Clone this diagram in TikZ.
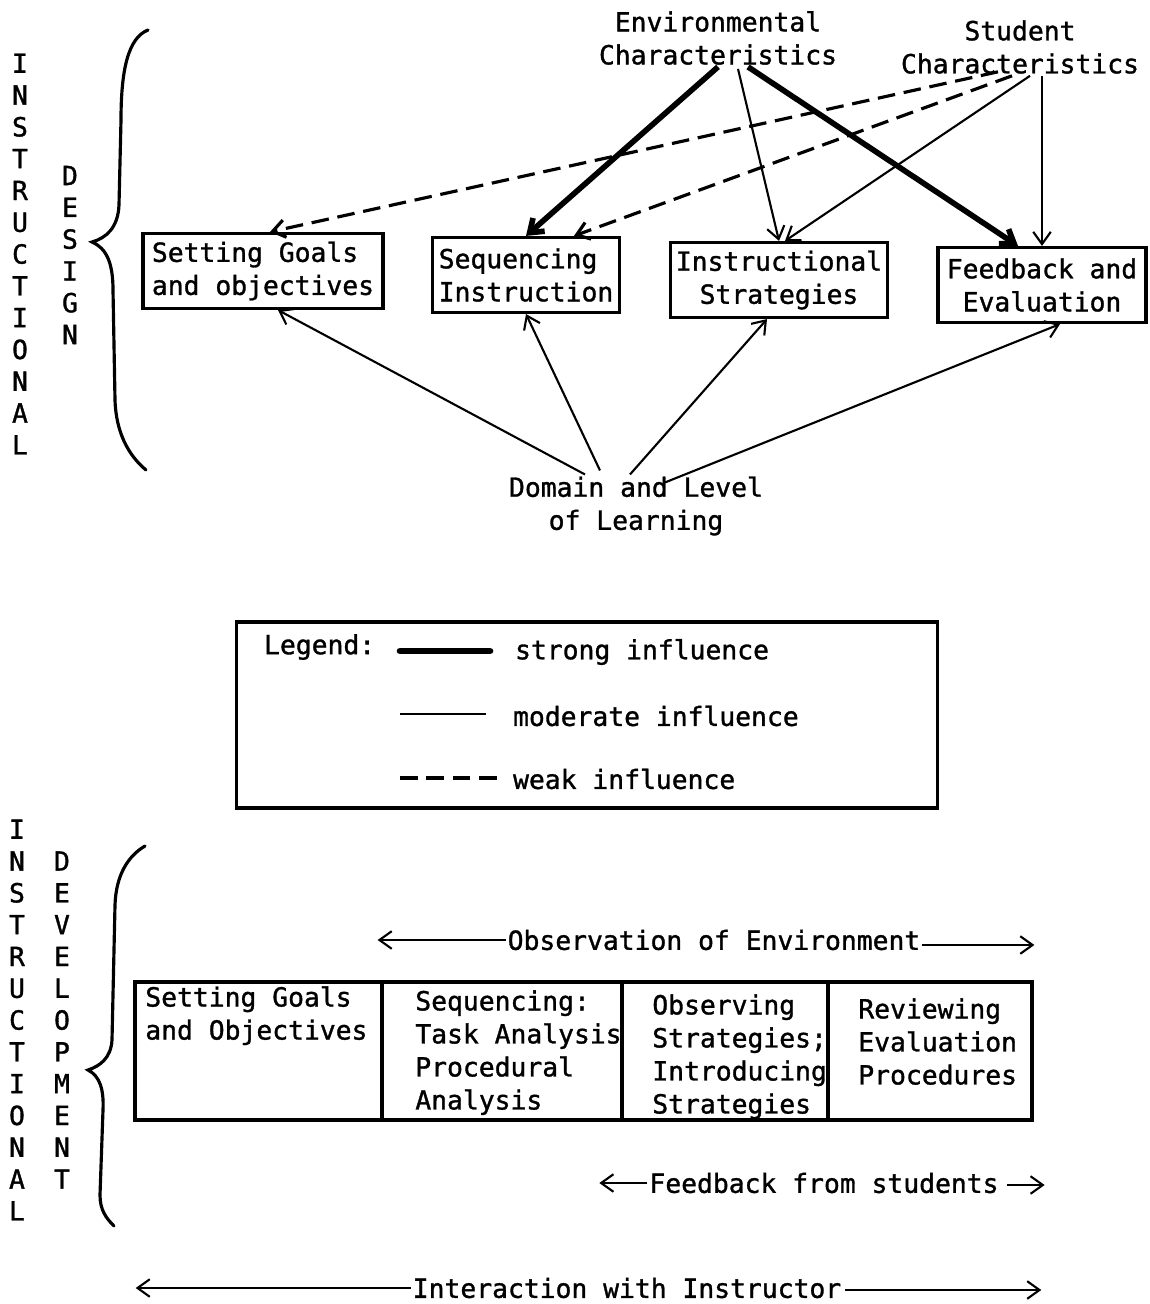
\documentclass[tikz,border=0pt]{standalone}
\usepackage{fontspec}
\newfontfamily\typefont{DejaVu Sans Mono}[FakeBold=1.2]
\usetikzlibrary{positioning,arrows.meta,calc}
\newcommand{\diagfont}{\typefont\fontsize{15}{18.8}\selectfont}
\newcommand{\stackfont}{\typefont\fontsize{15}{18.1}\selectfont}
\tikzset{
    >={Straight Barb[length=7pt,width=10pt]},
    factor/.style = {
        font=\diagfont,
        align=center,
        inner sep=1pt
    },
    stage/.style = {
        draw,
        shape=rectangle,
        minimum height=1.5cm,
        inner sep=3pt,
        line width=1.8pt,
        font=\diagfont
    },
    cell/.style = {
        draw,
        shape=rectangle,
        minimum height=2.76cm,
        line width=1.8pt
    },
    celltext/.style = {
        font=\diagfont,
        align=left,
        anchor=north west,
        inner sep=0pt
    },
    letters/.style = {
        font=\stackfont,
        align=center,
        inner sep=0pt
    },
    strong/.style = {line width=3.2pt},
    moderate/.style = {line width=1.2pt},
    weak/.style = {line width=1.8pt, dash pattern=on 10pt off 5pt},
    brace/.style = {line width=1.8pt, line cap=round},
}

\begin{document}
\begin{tikzpicture}[x=0.02cm, y=-0.02cm]
    \useasboundingbox (0,0) rectangle (1149,1304);

    % instructional design
    \node[letters] (inst1) at (20,254) {I\\N\\S\\T\\R\\U\\C\\T\\I\\O\\N\\A\\L};
    \node[letters] (design) at (70,255) {D\\E\\S\\I\\G\\N};
    \draw[brace] (148,30) .. controls (128,38) and (121,70) .. (121,120) -- (119,205) .. controls (118,228) and (106,238) .. (92,242) .. controls (106,248) and (113,262) .. (113,290) -- (115,400) .. controls (116,432) and (128,455) .. (146,470);

    \node[factor] (env) at (718,38) {Environmental\\Characteristics};
    \node[factor] (stu) at (1020,47) {Student\\Characteristics};

    \node[stage, minimum width=4.8cm, align=left] (goals) at (263,271) {Setting Goals\\and objectives};
    \node[stage, minimum width=3.74cm, align=left] (seq) at (526,275) {Sequencing\\Instruction};
    \node[stage, minimum width=4.3cm, align=center] (strat) at (779,280) {Instructional\\Strategies};
    \node[stage, minimum width=4.16cm, align=center] (feed) at (1042,285) {Feedback and\\Evaluation};

    \node[factor] (dom) at (636,506) {Domain and Level\\of Learning};

    \path[draw, ->, strong] (env.south) -- (seq.north);
    \path[draw, ->, moderate] ($(env.south)+(20,2)$) -- (strat.north);
    \path[draw, ->, strong] ($(env.south)+(30,0)$) -- ($(feed.north)+(-24,0)$);
    \path[draw, ->, weak] ($(stu.south)+(-22,-4)$) -- ($(goals.north)+(7,0)$);
    \path[draw, ->, weak] ($(stu.south)+(-8,0)$) -- ($(seq.north)+(48,0)$);
    \path[draw, ->, moderate] ($(stu.south)+(10,0)$) -- ($(strat.north)+(6,0)$);
    \path[draw, ->, moderate] (feed.north |- stu.south) -- (feed.north);

    \path[draw, ->, moderate] ($(dom.north)+(-51,0)$) -- ($(goals.south)+(15,0)$);
    \path[draw, ->, moderate] ($(dom.north)+(-36,-4)$) -- (seq.south);
    \path[draw, ->, moderate] ($(dom.north)+(-6,0)$) -- ($(strat.south)+(-12,0)$);
    \path[draw, ->, moderate] ($(dom.north)+(29,8)$) -- ($(feed.south)+(18,0)$);

    % legend
    \node[draw, line width=1.8pt, minimum width=14.02cm, minimum height=3.72cm] (legend) at (587,715) {};
    \node[factor, anchor=west] (legtitle) at (262,647) {Legend:};
    \node[factor, anchor=west] (strongtxt) at (513,652) {strong influence};
    \node[factor, anchor=west] (modtxt) at (511,716) {moderate influence};
    \node[factor, anchor=west] (weaktxt) at (511,779) {weak influence};
    \draw[strong, line width=3.8pt, line cap=round] ($(strongtxt.west)+(-113,-1)$) -- ++(90,0);
    \draw[moderate] ($(modtxt.west)+(-111,-2)$) -- ++(86,0);
    \draw[weak] ($(weaktxt.west)+(-111,-1)$) -- ++(97,0);

    % instructional development
    \node[letters] (inst2) at (17,1020) {I\\N\\S\\T\\R\\U\\C\\T\\I\\O\\N\\A\\L};
    \node[letters] (devel) at (62,1020) {D\\E\\V\\E\\L\\O\\P\\M\\E\\N\\T};
    \draw[brace] (145,846) .. controls (128,856) and (116,875) .. (115,905) -- (112,1040) .. controls (111,1058) and (100,1066) .. (88,1070) .. controls (100,1076) and (104,1090) .. (103,1110) -- (100,1195) .. controls (100,1210) and (106,1218) .. (114,1226);

    \node[factor] (obs) at (714,940) {Observation of Environment};
    \path[draw, ->, moderate] (obs.west) -- ++(-128,0);
    \path[draw, ->, moderate] ($(obs.east)+(0,5)$) -- ++(112,0);

    \node[cell, minimum width=4.94cm] (c1) at (258.5,1051) {};
    \node[cell, minimum width=4.8cm] (c2) at (502,1051) {};
    \node[cell, minimum width=4.12cm] (c3) at (725,1051) {};
    \node[cell, minimum width=4.08cm] (c4) at (930,1051) {};
    \node[celltext] (t1) at (145,986) {Setting Goals\\and Objectives};
    \node[celltext] (t2) at (415,990) {Sequencing:\\Task Analysis\\Procedural\\Analysis};
    \node[celltext] (t3) at (652,994) {Observing\\Strategies;\\Introducing\\Strategies};
    \node[celltext] (t4) at (858,998) {Reviewing\\Evaluation\\Procedures};

    \node[factor] (fbs) at (824,1183) {Feedback from students};
    \path[draw, ->, moderate] (fbs.west) -- ++(-48,0);
    \path[draw, ->, moderate] ($(fbs.east)+(6,2)$) -- ++(38,0);

    \node[factor] (inter) at (627,1288) {Interaction with Instructor};
    \path[draw, ->, moderate] (inter.west) -- ++(-275,0);
    \path[draw, ->, moderate] ($(inter.east)+(2,2)$) -- ++(196,0);
\end{tikzpicture}
\end{document}
